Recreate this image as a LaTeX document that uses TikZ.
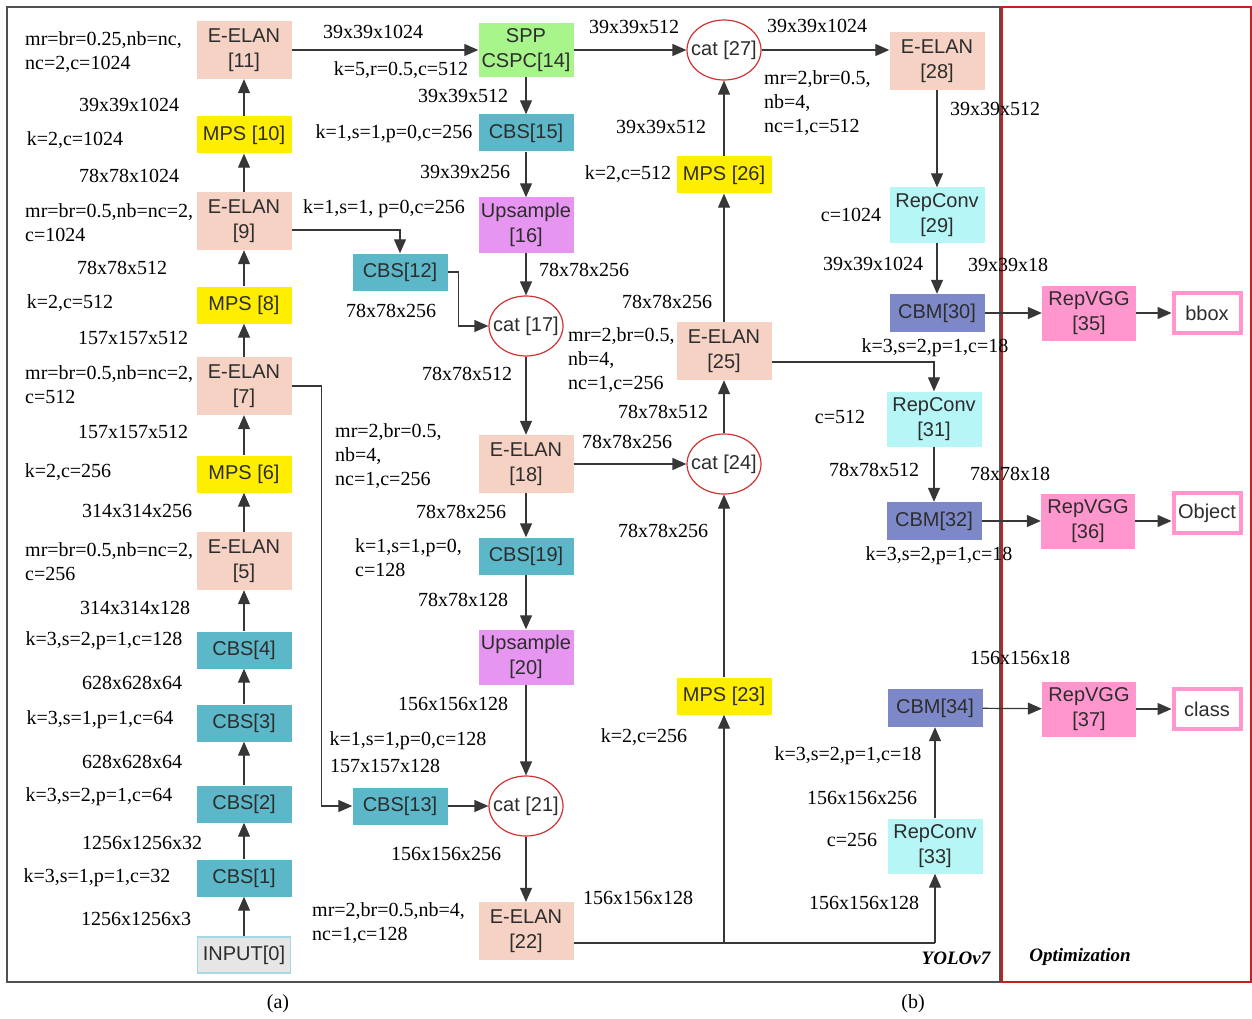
\documentclass[tikz,border=0pt]{standalone}
\usepackage{fontspec}
\setmainfont{Liberation Serif}
\setsansfont{Liberation Sans}
\usetikzlibrary{arrows.meta,shapes.geometric}
\definecolor{elanc}{RGB}{245,210,196}
\definecolor{mpsc}{RGB}{255,238,0}
\definecolor{cbsc}{RGB}{92,184,200}
\definecolor{sppc}{RGB}{168,245,140}
\definecolor{upsc}{RGB}{230,150,240}
\definecolor{repcc}{RGB}{182,246,246}
\definecolor{cbmc}{RGB}{125,136,200}
\definecolor{vggc}{RGB}{255,150,205}
\definecolor{inputc}{RGB}{230,230,230}
\definecolor{inputb}{RGB}{165,215,228}
\definecolor{catc}{RGB}{210,50,50}
\definecolor{txtgray}{RGB}{45,45,45}
\definecolor{linec}{RGB}{55,55,55}
\definecolor{framec}{RGB}{80,80,80}
\definecolor{redframe}{RGB}{205,30,30}
\tikzset{
  blk/.style={rectangle, minimum width=95pt, inner sep=0pt, align=center, text=txtgray,
              font=\sffamily\fontsize{20}{25}\selectfont},
  elan/.style={blk, fill=elanc, minimum height=58pt},
  mps/.style={blk, fill=mpsc, minimum height=37pt},
  cbs/.style={blk, fill=cbsc, minimum height=37pt},
  ups/.style={blk, fill=upsc, minimum height=55pt},
  spp/.style={blk, fill=sppc, minimum height=54pt},
  repc/.style={blk, fill=repcc, minimum height=55pt},
  cbm/.style={blk, fill=cbmc, minimum height=38pt},
  rvgg/.style={blk, fill=vggc, minimum height=55pt, minimum width=94pt},
  outb/.style={blk, fill=white, draw=vggc, line width=4pt, minimum width=67pt, minimum height=40pt},
  inb/.style={blk, fill=inputc, draw=inputb, line width=1.2pt, minimum width=93pt, minimum height=36pt},
  catn/.style={ellipse, draw=catc, line width=1.2pt, fill=white, minimum width=74pt,
               minimum height=60pt, inner sep=0pt, text=txtgray,
               font=\sffamily\fontsize{20}{25}\selectfont},
  lbl/.style={font=\fontsize{20}{24}\selectfont, inner sep=0pt, align=left},
  arr/.style={-{Triangle[width=12pt,length=14pt]}, line width=1.2pt, draw=linec},
  ln/.style={line width=1.2pt, draw=linec},
}
\begin{document}
\begin{tikzpicture}[x=1pt,y=-1pt]
\useasboundingbox (0,0) rectangle (1252,1019);
% frames
\draw[line width=2.5pt, draw=framec] (7,7) rectangle (1000,982);
\draw[line width=2pt, draw=redframe] (1002,7) rectangle (1251,982);

% ---------- left column ----------
\node[elan] (n11) at (244,50) {E-ELAN\\{[11]}};
\node[mps] (n10) at (244,135) {MPS [10]};
\node[elan] (n9) at (244,221) {E-ELAN\\{[9]}};
\node[mps] (n8) at (244,305) {MPS [8]};
\node[elan] (n7) at (244,386) {E-ELAN\\{[7]}};
\node[mps] (n6) at (244,474) {MPS [6]};
\node[elan] (n5) at (244,561) {E-ELAN\\{[5]}};
\node[cbs] (n4) at (244,650) {CBS[4]};
\node[cbs] (n3) at (244,723) {CBS[3]};
\node[cbs] (n2) at (244,804) {CBS[2]};
\node[cbs] (n1) at (244,878) {CBS[1]};
\node[inb] (n0) at (244,955) {INPUT[0]};

% ---------- middle column ----------
\node[spp] (n14) at (526,50) {SPP\\CSPC[14]};
\node[cbs] (n15) at (526,133) {CBS[15]};
\node[ups] (n16) at (526,225) {Upsample\\{[16]}};
\node[cbs] (n12) at (400,272) {CBS[12]};
\node[catn] (n17) at (526,326) {\makebox[0pt]{cat [17]}};
\node[elan] (n18) at (526,464) {E-ELAN\\{[18]}};
\node[cbs] (n19) at (526,556) {CBS[19]};
\node[ups] (n20) at (526,657) {Upsample\\{[20]}};
\node[cbs] (n13) at (400,806) {CBS[13]};
\node[catn] (n21) at (526,806) {\makebox[0pt]{cat [21]}};
\node[elan] (n22) at (526,931) {E-ELAN\\{[22]}};

% ---------- second middle column ----------
\node[catn] (n27) at (724,50) {\makebox[0pt]{cat [27]}};
\node[mps] (n26) at (724,175) {MPS [26]};
\node[elan] (n25) at (724,351) {E-ELAN\\{[25]}};
\node[catn] (n24) at (724,464) {\makebox[0pt]{cat [24]}};
\node[mps] (n23) at (724,696) {MPS [23]};

% ---------- right column ----------
\node[elan] (n28) at (937,61) {E-ELAN\\{[28]}};
\node[repc] (n29) at (937,215) {RepConv\\{[29]}};
\node[cbm] (n30) at (937,313) {CBM[30]};
\node[rvgg] (n35) at (1089,313) {RepVGG\\{[35]}};
\node[outb] (nbbox) at (1207,313) {bbox};
\node[repc] (n31) at (934,419) {RepConv\\{[31]}};
\node[cbm] (n32) at (934,521) {CBM[32]};
\node[rvgg] (n36) at (1088,521) {RepVGG\\{[36]}};
\node[outb] (nobj) at (1207,513) {Object};
\node[cbm] (n34) at (935,708) {CBM[34]};
\node[rvgg] (n37) at (1089,709) {RepVGG\\{[37]}};
\node[outb] (ncls) at (1207,709) {class};
\node[repc] (n33) at (935,846) {RepConv\\{[33]}};

% ---------- connectors ----------
\draw[arr] (n0) -- (n1);
\draw[arr] (n1) -- (n2);
\draw[arr] (n2) -- (n3);
\draw[arr] (n3) -- (n4);
\draw[arr] (n4) -- (n5);
\draw[arr] (n5) -- (n6);
\draw[arr] (n6) -- (n7);
\draw[arr] (n7) -- (n8);
\draw[arr] (n8) -- (n9);
\draw[arr] (n9) -- (n10);
\draw[arr] (n10) -- (n11);
\draw[arr] (n11) -- (n14);
\draw[arr] (n14) -- (n27);
\draw[arr] (n14) -- (n15);
\draw[arr] (n15) -- (n16);
\draw[arr] (n16) -- (n17);
\draw[arr] ([yshift=-9pt]n9.east) -| (n12.north);
\draw[arr] (n12.east) -- ++(11,0) |- (n17.west);
\draw[arr] (n17) -- (n18);
\draw[arr] (n18) -- (n19);
\draw[arr] (n19) -- (n20);
\draw[arr] (n20) -- (n21);
\draw[arr] (n7.east) -- ++(30,0) |- (n13.west);
\draw[arr] (n13) -- (n21);
\draw[arr] (n21) -- (n22);
\coordinate (j1) at (724,943);
\coordinate (j2) at (935,943);
\draw[ln] (n22.east |- j1) -- (j2);
\draw[arr] (j1) -- (n23);
\draw[arr] (j2) -- (n33);
\draw[arr] (n23) -- (n24);
\draw[arr] (n18) -- (n24);
\draw[arr] (n24) -- (n25);
\draw[arr] (n25) -- (n26);
\draw[arr] (n26) -- (n27);
\draw[arr] ([yshift=-11pt]n25.east) -| (n31.north);
\draw[arr] (n27.east) -- (n27.east -| n28.west);
\draw[arr] (n28) -- (n29);
\draw[arr] (n29) -- (n30);
\draw[arr] (n30) -- (n35);
\draw[arr] (n35) -- (nbbox);
\draw[arr] (n31) -- (n32);
\draw[arr] (n32) -- (n36);
\draw[arr] (n36.east) -- (n36.east -| nobj.west);
\draw[arr] (n33) -- (n34);
\draw[arr] (n34) -- (n37);
\draw[arr] (n37) -- (ncls);

% ---------- labels: left ----------
\node[lbl, anchor=west] (la1) at (25,52) {mr=br=0.25,nb=nc,\\nc=2,c=1024};
\node[lbl] (la2) at (129,105) {39x39x1024};
\node[lbl] (la3) at (75,140) {k=2,c=1024};
\node[lbl] (la4) at (129,176) {78x78x1024};
\node[lbl, anchor=west] (la5) at (25,223) {mr=br=0.5,nb=nc=2,\\c=1024};
\node[lbl] (la6) at (122,268) {78x78x512};
\node[lbl] (la7) at (70,303) {k=2,c=512};
\node[lbl] (la8) at (133,338) {157x157x512};
\node[lbl, anchor=west] (la9) at (25,385) {mr=br=0.5,nb=nc=2,\\c=512};
\node[lbl] (la10) at (133,432) {157x157x512};
\node[lbl] (la11) at (68,472) {k=2,c=256};
\node[lbl] (la12) at (137,511) {314x314x256};
\node[lbl, anchor=west] (la13) at (25,562) {mr=br=0.5,nb=nc=2,\\c=256};
\node[lbl] (la14) at (135,608) {314x314x128};
\node[lbl] (la15) at (104,641) {k=3,s=2,p=1,c=128};
\node[lbl] (la16) at (132,683) {628x628x64};
\node[lbl] (la17) at (100,720) {k=3,s=1,p=1,c=64};
\node[lbl] (la18) at (132,762) {628x628x64};
\node[lbl] (la19) at (99,797) {k=3,s=2,p=1,c=64};
\node[lbl] (la20) at (142,843) {1256x1256x32};
\node[lbl] (la21) at (97,878) {k=3,s=1,p=1,c=32};
\node[lbl] (la22) at (136,919) {1256x1256x3};

% ---------- labels: middle ----------
\node[lbl] (lb1) at (373,32) {39x39x1024};
\node[lbl] (lb2) at (401,70) {k=5,r=0.5,c=512};
\node[lbl] (lb3) at (463,96) {39x39x512};
\node[lbl] (lb4) at (394,134) {k=1,s=1,p=0,c=256};
\node[lbl] (lb5) at (465,172) {39x39x256};
\node[lbl] (lb6) at (384,209) {k=1,s=1, p=0,c=256};
\node[lbl] (lb7) at (584,270) {78x78x256};
\node[lbl] (lb8) at (391,311) {78x78x256};
\node[lbl] (lb9) at (467,374) {78x78x512};
\node[lbl, anchor=west] (lb10) at (335,456) {mr=2,br=0.5,\\nb=4,\\nc=1,c=256};
\node[lbl] (lb11) at (461,512) {78x78x256};
\node[lbl, anchor=west] (lb12) at (355,558) {k=1,s=1,p=0,\\c=128};
\node[lbl] (lb13) at (463,600) {78x78x128};
\node[lbl] (lb14) at (453,704) {156x156x128};
\node[lbl] (lb15) at (408,741) {k=1,s=1,p=0,c=128};
\node[lbl] (lb16) at (385,766) {157x157x128};
\node[lbl] (lb17) at (446,854) {156x156x256};
\node[lbl, anchor=west] (lb18) at (312,923) {mr=2,br=0.5,nb=4,\\nc=1,c=128};

% ---------- labels: second middle ----------
\node[lbl] (lc1) at (634,27) {39x39x512};
\node[lbl] (lc2) at (661,127) {39x39x512};
\node[lbl] (lc3) at (628,174) {k=2,c=512};
\node[lbl] (lc4) at (667,302) {78x78x256};
\node[lbl, anchor=west] (lc5) at (568,360) {mr=2,br=0.5,\\nb=4,\\nc=1,c=256};
\node[lbl] (lc6) at (663,412) {78x78x512};
\node[lbl] (lc7) at (627,442) {78x78x256};
\node[lbl] (lc8) at (663,531) {78x78x256};
\node[lbl] (lc9) at (644,737) {k=2,c=256};
\node[lbl] (lc10) at (638,898) {156x156x128};

% ---------- labels: right ----------
\node[lbl] (ld1) at (817,26) {39x39x1024};
\node[lbl, anchor=west] (ld2) at (764,103) {mr=2,br=0.5,\\nb=4,\\nc=1,c=512};
\node[lbl] (ld3) at (995,109) {39x39x512};
\node[lbl] (ld4) at (851,215) {c=1024};
\node[lbl] (ld5) at (873,264) {39x39x1024};
\node[lbl] (ld6) at (1008,265) {39x39x18};
\node[lbl] (ld7) at (935,348) {k=3,s=2,p=1,c=18};
\node[lbl] (ld8) at (840,417) {c=512};
\node[lbl] (ld9) at (874,470) {78x78x512};
\node[lbl] (ld10) at (1010,474) {78x78x18};
\node[lbl] (ld11) at (939,556) {k=3,s=2,p=1,c=18};
\node[lbl] (ld12) at (1020,658) {156x156x18};
\node[lbl] (ld13) at (848,756) {k=3,s=2,p=1,c=18};
\node[lbl] (ld14) at (862,798) {156x156x256};
\node[lbl] (ld15) at (852,840) {c=256};
\node[lbl] (ld16) at (864,903) {156x156x128};

\node[lbl, font=\fontsize{19}{24}\selectfont\bfseries\itshape] (tyolo) at (956,958) {YOLOv7};
\node[lbl, font=\fontsize{19}{24}\selectfont\bfseries\itshape] (topt) at (1080,957) {Optimization};
\node[lbl] (capa) at (278,1004) {(a)};
\node[lbl] (capb) at (913,1004) {(b)};
\end{tikzpicture}
\end{document}
